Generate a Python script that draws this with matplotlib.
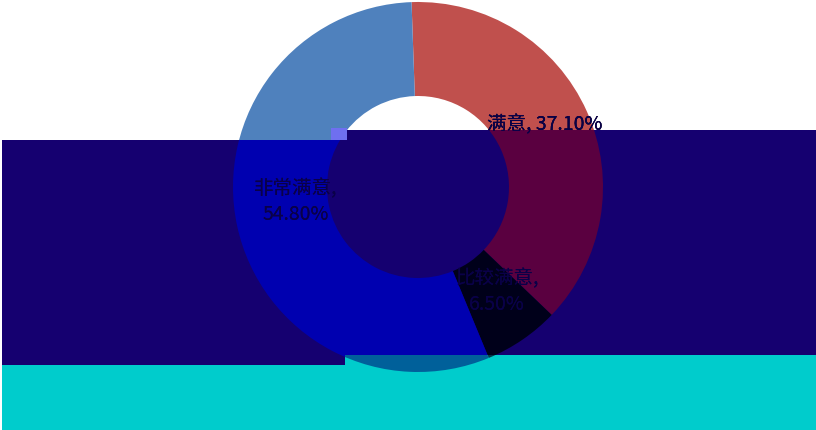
import matplotlib
matplotlib.use('Agg')
import matplotlib.pyplot as plt
from matplotlib.patches import Rectangle, Wedge
import numpy as np

plt.rcParams['font.family'] = ['Noto Sans CJK SC', 'DejaVu Sans']

categories = ['满意', '比较满意', '非常满意']
values = [37.1, 6.5, 54.8]
label_text = ['满意, 37.10%', '比较满意,\n6.50%', '非常满意,\n54.80%']
colors = ['#c0504d', '#9bbb59', '#4f81bd']

# the reference has flat colour bands pasted over it, which recolour what lies beneath
dark_bands = [(2, 65, 343, 225), (345, 75, 471, 225)]
dark_map = {'bg': '#150070', '#c0504d': '#5a0040', '#9bbb59': '#00001a', '#4f81bd': '#0000b0'}
cyan_bands = [(2, 0, 343, 65), (345, 0, 471, 75)]
cyan_map = {'bg': '#00cccc', '#c0504d': '#004040', '#9bbb59': '#003a4a', '#4f81bd': '#00609a'}

fig = plt.figure(figsize=(8.16, 4.30), dpi=100)
ax = fig.add_axes([0, 0, 1, 1])

cx, cy, r = 418, 243, 185
wedges, _ = ax.pie(values, colors=colors, startangle=92, counterclock=False,
                   center=(cx, cy), radius=r,
                   wedgeprops=dict(width=94, linewidth=0))
ax.set_xlim(0, 816)
ax.set_ylim(0, 430)
ax.axis('off')

# label positions: middle of each ring segment, nudged a little
nudges = [(1, 6), (1, 9), (13, 15)]
label_pos = []
for w, (dx, dy) in zip(wedges, nudges):
    mid = np.deg2rad((w.theta1 + w.theta2) / 2)
    label_pos.append((cx + 138 * np.cos(mid) + dx, cy + 138 * np.sin(mid) + dy))

for (x, y), t in zip(label_pos, label_text):
    ax.text(x, y, t, ha='center', va='center', fontsize=14, color='black',
            linespacing=1.3, zorder=3)


def draw_band(bands, cmap, text_color=None):
    for (x0, y0, bw, bh) in bands:
        rect = Rectangle((x0, y0), bw, bh, facecolor=cmap['bg'], edgecolor='none', zorder=4)
        ax.add_patch(rect)
        for w, c in zip(wedges, colors):
            cp = Wedge(w.center, w.r, w.theta1, w.theta2, width=w.width,
                       facecolor=cmap[c], edgecolor='none', zorder=5)
            ax.add_patch(cp)
            cp.set_clip_path(rect)
        if text_color:
            for (x, y), t in zip(label_pos, label_text):
                tx = ax.text(x, y, t, ha='center', va='center', fontsize=14,
                             color=text_color, linespacing=1.3, zorder=6)
                tx.set_clip_path(rect)


draw_band(dark_bands, dark_map, text_color='#0a0048')
draw_band(cyan_bands, cyan_map)

# small stray block left of the hole
ax.add_patch(Rectangle((331, 290), 16, 12, facecolor='#6f6ff0', edgecolor='none', zorder=7))

fig.savefig('out.png', dpi=100)
